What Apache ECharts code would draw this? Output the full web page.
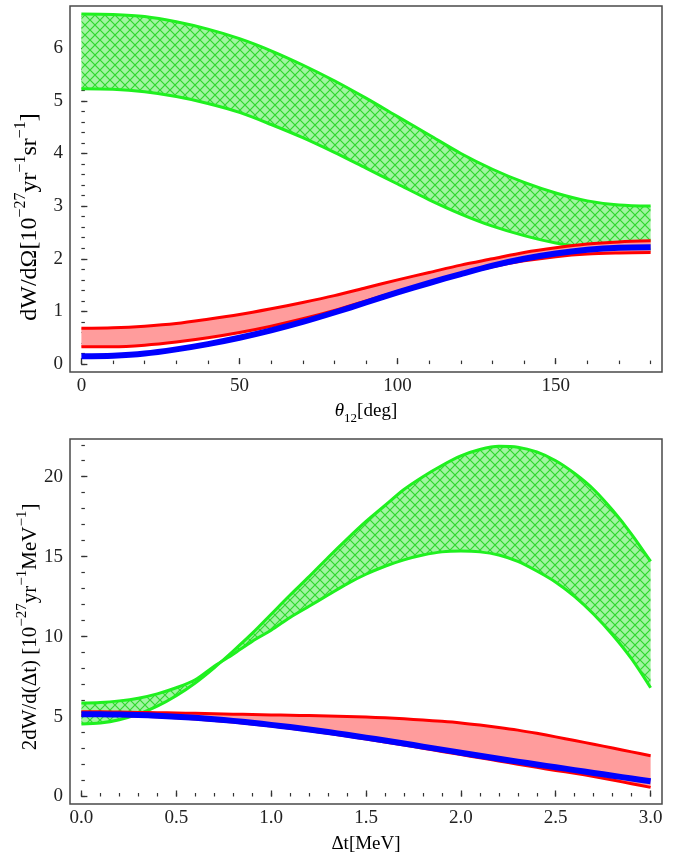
<!DOCTYPE html>
<html><head><meta charset="utf-8">
<script src="https://cdn.jsdelivr.net/npm/echarts@6/dist/echarts.min.js"></script>
<style>html,body{margin:0;padding:0;background:#fff}#c{width:683px;height:856px}</style>
</head><body><div id="c"></div>
<script>
// ---------- top panel data (theta in degrees) ----------
const theta = [0,10,20,30,40,50,60,70,80,90,100,110,120,130,140,150,160,170,180];
const greenUpperA = [6.65,6.64,6.60,6.50,6.36,6.18,5.95,5.68,5.38,5.05,4.70,4.35,4.00,3.70,3.45,3.25,3.10,3.02,3.00];
const greenLowerA = [5.23,5.22,5.17,5.08,4.95,4.78,4.55,4.30,4.02,3.72,3.42,3.12,2.85,2.62,2.44,2.30,2.22,2.18,2.17];
const redUpperA   = [0.68,0.69,0.72,0.77,0.85,0.94,1.05,1.17,1.30,1.45,1.60,1.74,1.88,2.00,2.12,2.21,2.28,2.32,2.34];
const redLowerA   = [0.33,0.33,0.36,0.42,0.50,0.60,0.72,0.86,1.02,1.20,1.38,1.55,1.71,1.85,1.96,2.04,2.09,2.11,2.12];
const blueA       = [0.15,0.16,0.20,0.28,0.38,0.50,0.64,0.80,0.98,1.17,1.36,1.54,1.71,1.87,2.00,2.10,2.17,2.21,2.22];
const xMajorA = [0,50,100,150];
const xMinorA = [0,10,20,30,40,50,60,70,80,90,100,110,120,130,140,150,160,170,180];
const yMajorA = [0,1,2,3,4,5,6];
const yMinorA = [0,0.2,0.4,0.6,0.8,1,1.2,1.4,1.6,1.8,2,2.2,2.4,2.6,2.8,3,3.2,3.4,3.6,3.8,4,4.2,4.4,4.6,4.8,5,5.2,5.4,5.6,5.8,6,6.2,6.4,6.6];

// ---------- bottom panel data (Delta t in MeV) ----------
const dt = [0,0.1,0.2,0.3,0.4,0.5,0.6,0.7,0.8,0.9,1.0,1.1,1.2,1.3,1.4,1.5,1.6,1.7,1.8,1.9,2.0,2.1,2.2,2.3,2.4,2.5,2.6,2.7,2.8,2.9,3.0];
const greenCurve1 = [5.85,5.88,5.98,6.15,6.42,6.80,7.30,8.15,8.90,9.70,10.40,11.20,11.90,12.60,13.30,13.90,14.40,14.80,15.10,15.30,15.35,15.30,15.10,14.70,14.10,13.40,12.50,11.40,10.10,8.60,6.80];
const greenCurve2 = [4.54,4.60,4.80,5.15,5.65,6.30,7.10,8.05,9.10,10.20,11.40,12.60,13.75,14.95,16.10,17.20,18.20,19.20,20.00,20.70,21.30,21.70,21.90,21.85,21.55,21.00,20.20,19.20,17.90,16.40,14.70];
const redUpperB = [5.30,5.30,5.28,5.26,5.24,5.22,5.20,5.18,5.15,5.13,5.10,5.08,5.06,5.03,5.00,4.97,4.92,4.86,4.78,4.70,4.60,4.47,4.32,4.15,3.95,3.73,3.50,3.27,3.03,2.79,2.55];
const redLowerB = [5.08,5.08,5.06,5.03,4.98,4.92,4.85,4.76,4.66,4.54,4.41,4.27,4.12,3.95,3.78,3.60,3.41,3.22,3.02,2.82,2.62,2.42,2.22,2.02,1.82,1.63,1.45,1.25,1.03,0.80,0.57];
const blueB     = [5.15,5.15,5.13,5.10,5.05,4.99,4.92,4.83,4.73,4.61,4.48,4.34,4.19,4.03,3.86,3.68,3.50,3.31,3.12,2.93,2.74,2.55,2.36,2.18,2.00,1.83,1.65,1.47,1.30,1.12,0.95];
const xMajorB = [0,0.5,1,1.5,2,2.5,3];
const xMinorB = [0,0.1,0.2,0.3,0.4,0.5,0.6,0.7,0.8,0.9,1,1.1,1.2,1.3,1.4,1.5,1.6,1.7,1.8,1.9,2,2.1,2.2,2.3,2.4,2.5,2.6,2.7,2.8,2.9,3];
const yMajorB = [0,5,10,15,20];
const yMinorB = [0,1,2,3,4,5,6,7,8,9,10,11,12,13,14,15,16,17,18,19,20,21,22];

// ---------- styling ----------
const FONT = 'Liberation Serif';
const GREEN = '#1ff01f', RED = '#ff0000', BLUE = '#0000ff', PINK = '#ff9c9c';
function hatch(){
  const c = document.createElement('canvas'); c.width = 10; c.height = 10;
  const g = c.getContext('2d');
  g.fillStyle = '#a2f4a2'; g.fillRect(0,0,10,10);
  g.strokeStyle = '#2ed82e'; g.lineWidth = 1.2;
  g.beginPath(); g.moveTo(-1,-1); g.lineTo(11,11); g.moveTo(11,-1); g.lineTo(-1,11); g.stroke();
  return c;
}
const hatchPattern = {image: hatch(), repeat: 'repeat'};

const pairs = (xs, ys) => xs.map((x,i)=>[x, ys[i]]);
const SM = 0.3;

function bandSeries(xs, lo, hi, fill, xi, yi, z){
  return {type:'custom', xAxisIndex:xi, yAxisIndex:yi, z, silent:true,
    data: xs.map((x,i)=>[x, lo[i], hi[i]]),
    encode:{x:0, y:[1,2]},
    renderItem(params, api){
      if (params.dataIndex !== 0) return null;
      const pts = [];
      for (let i=0;i<xs.length;i++) pts.push(api.coord([xs[i], hi[i]]));
      for (let i=xs.length-1;i>=0;i--) pts.push(api.coord([xs[i], lo[i]]));
      return {type:'polygon', shape:{points:pts}, style:{fill: fill, stroke:'none'}};
    }};
}
function lineSeries(xs, ys, color, width, xi, yi, z){
  return {type:'line', xAxisIndex:xi, yAxisIndex:yi, data: pairs(xs, ys), symbol:'none', smooth:SM,
    lineStyle:{color, width, join:'round'}, silent:true, z};
}

function majorX(gi, min, max, vals, fmt){
  return {type:'value', gridIndex:gi, min, max, position:'bottom',
    axisLine:{show:false}, splitLine:{show:false},
    axisTick:{show:true, inside:true, length:6, customValues: vals, lineStyle:{color:'#333', width:1.3}},
    axisLabel:{show:true, customValues: vals, margin:5, fontFamily:FONT, fontSize:19, color:'#222', formatter: fmt}};
}
function minorX(gi, min, max, vals){
  return {type:'value', gridIndex:gi, min, max, position:'bottom',
    axisLine:{show:false}, splitLine:{show:false}, axisLabel:{show:false},
    axisTick:{show:true, inside:true, length:3.5, customValues: vals, lineStyle:{color:'#333', width:1.2}}};
}
function majorY(gi, min, max, vals){
  return {type:'value', gridIndex:gi, min, max, position:'left',
    axisLine:{show:false}, splitLine:{show:false},
    axisTick:{show:true, inside:true, length:6, customValues: vals, lineStyle:{color:'#333', width:1.3}},
    axisLabel:{show:true, customValues: vals, margin:7, fontFamily:FONT, fontSize:19, color:'#222'}};
}
function minorY(gi, min, max, vals){
  return {type:'value', gridIndex:gi, min, max, position:'left',
    axisLine:{show:false}, splitLine:{show:false}, axisLabel:{show:false},
    axisTick:{show:true, inside:true, length:3.5, customValues: vals, lineStyle:{color:'#333', width:1.2}}};
}

const gridStyle = {show:true, borderColor:'#4a4a4a', borderWidth:1.5, backgroundColor:'transparent'};

const gBlo = greenCurve1.map((v,i)=>Math.min(v, greenCurve2[i]));
const gBhi = greenCurve1.map((v,i)=>Math.max(v, greenCurve2[i]));

function richSet(fs, ss){
  return {
    n:{fontFamily:FONT, fontSize:fs, color:'#222', lineHeight:fs+10, verticalAlign:'middle'},
    it:{fontFamily:FONT, fontSize:fs, color:'#222', lineHeight:fs+10, fontStyle:'italic', verticalAlign:'middle'},
    sup:{fontFamily:FONT, fontSize:ss, color:'#222', lineHeight:ss, verticalAlign:'top'},
    sub:{fontFamily:FONT, fontSize:ss, color:'#222', lineHeight:ss, verticalAlign:'bottom'}
  };
}
const richX = richSet(19, 13);
const richY1 = richSet(24, 16);
const richY2 = richSet(21, 15);

const option = {
  animation:false,
  backgroundColor:'#ffffff',
  grid:[
    Object.assign({left:70, top:6, width:592, height:366}, gridStyle),
    Object.assign({left:70, top:439, width:592, height:365}, gridStyle)
  ],
  xAxis:[
    majorX(0, -3.6, 183.6, xMajorA, v=>String(v)),
    minorX(0, -3.6, 183.6, xMinorA),
    majorX(1, -0.06, 3.06, xMajorB, v=>v.toFixed(1)),
    minorX(1, -0.06, 3.06, xMinorB)
  ],
  yAxis:[
    majorY(0, -0.15, 6.8, yMajorA),
    minorY(0, -0.15, 6.8, yMinorA),
    majorY(1, -0.47, 22.36, yMajorB),
    minorY(1, -0.47, 22.36, yMinorB)
  ],
  series:[
    bandSeries(theta, greenLowerA, greenUpperA, hatchPattern, 0, 0, 2),
    lineSeries(theta, greenUpperA, GREEN, 3, 0, 0, 3),
    lineSeries(theta, greenLowerA, GREEN, 3, 0, 0, 3),
    bandSeries(theta, redLowerA, redUpperA, PINK, 0, 0, 4),
    lineSeries(theta, redUpperA, RED, 3, 0, 0, 5),
    lineSeries(theta, redLowerA, RED, 3, 0, 0, 5),
    lineSeries(theta, blueA, BLUE, 6, 0, 0, 6),

    bandSeries(dt, gBlo, gBhi, hatchPattern, 2, 2, 2),
    lineSeries(dt, greenCurve1, GREEN, 3, 2, 2, 3),
    lineSeries(dt, greenCurve2, GREEN, 3, 2, 2, 3),
    bandSeries(dt, redLowerB, redUpperB, PINK, 2, 2, 4),
    lineSeries(dt, redUpperB, RED, 3, 2, 2, 5),
    lineSeries(dt, redLowerB, RED, 3, 2, 2, 5),
    lineSeries(dt, blueB, BLUE, 6, 2, 2, 6)
  ],
  graphic:[
    {type:'text', x:366, y:411, style:{text:'{it|θ}{sub|12}{n|[deg]}', rich:richX, align:'center', verticalAlign:'middle'}},
    {type:'text', x:366, y:844, style:{text:'{n|Δt[MeV]}', rich:richX, align:'center', verticalAlign:'middle'}},
    {type:'text', x:30, y:217, rotation:Math.PI/2, style:{text:'{n|dW/dΩ[10}{sup|−27}{n|yr}{sup|−1}{n|sr}{sup|−1}{n|]}', rich:richY1, align:'center', verticalAlign:'middle'}},
    {type:'text', x:30, y:627, rotation:Math.PI/2, style:{text:'{n|2dW/d(Δt) [10}{sup|−27}{n|yr}{sup|−1}{n|MeV}{sup|−1}{n|]}', rich:richY2, align:'center', verticalAlign:'middle'}}
  ]
};
echarts.init(document.getElementById('c')).setOption(option);
</script></body></html>
